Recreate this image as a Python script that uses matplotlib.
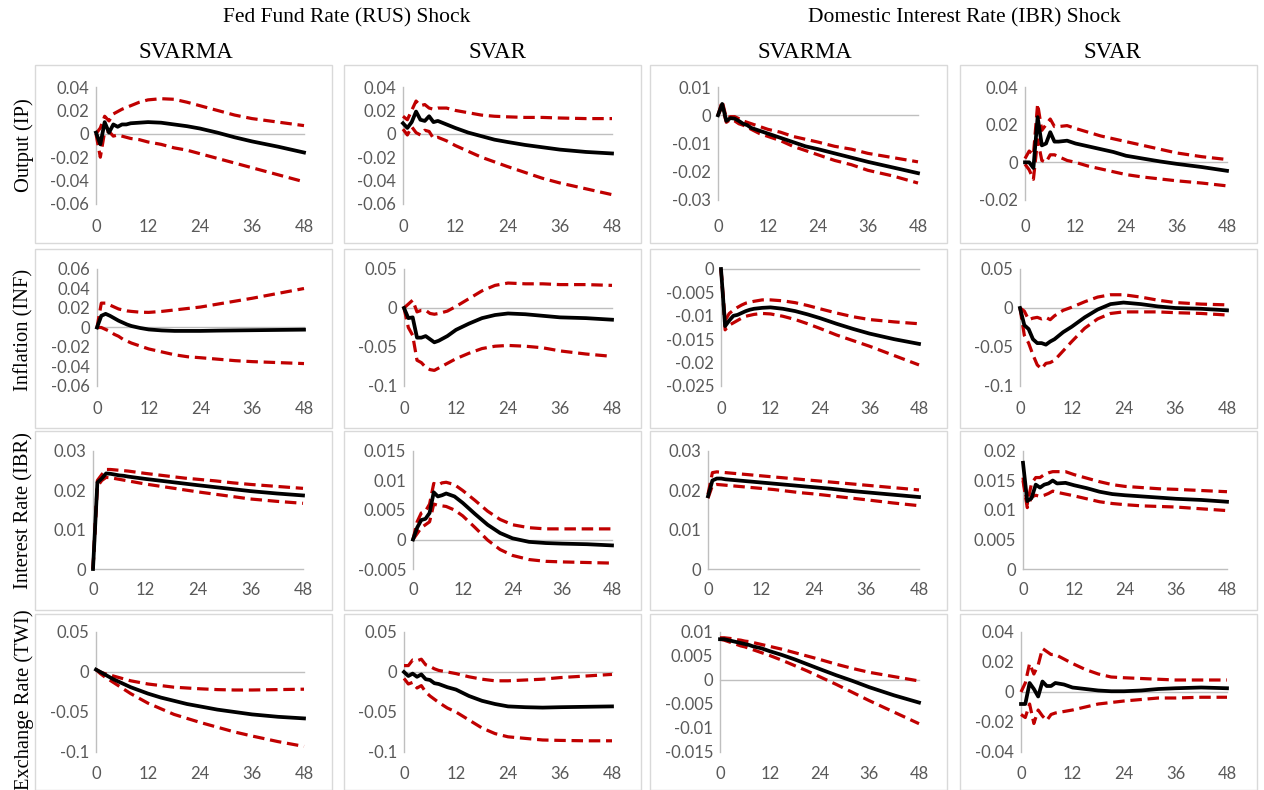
import matplotlib
matplotlib.use("Agg")
import matplotlib.pyplot as plt
from matplotlib.patches import Rectangle
from matplotlib.ticker import FuncFormatter

H = [0, 1, 2, 3, 4, 5, 6, 7, 8, 10, 12, 15, 18, 21, 24, 28, 32, 36, 42, 48]

row_labels = ["Output (IP)", "Inflation (INF)", "Interest Rate (IBR)", "Exchange Rate (TWI)"]
col_labels = ["SVARMA", "SVAR", "SVARMA", "SVAR"]
shock_labels = ["Fed Fund Rate (RUS) Shock", "Domestic Interest Rate (IBR) Shock"]
x_ticks = [0, 12, 24, 36, 48]

# ---- Output (IP) ----
ip_rus_svarma = [0.001, -0.009, 0.010, 0.001, 0.008, 0.006, 0.008, 0.008, 0.009, 0.0095, 0.010, 0.0095, 0.008, 0.0065, 0.0045, 0.001, -0.003, -0.0065, -0.011, -0.016]
ip_rus_svarma_hi = [0.0, 0.005, 0.015, 0.011, 0.017, 0.019, 0.021, 0.0225, 0.024, 0.027, 0.029, 0.030, 0.0295, 0.027, 0.024, 0.020, 0.016, 0.013, 0.010, 0.007]
ip_rus_svarma_lo = [0.0, -0.020, 0.002, 0.002, -0.002, -0.001, -0.002, -0.003, -0.004, -0.005, -0.007, -0.009, -0.012, -0.014, -0.017, -0.021, -0.025, -0.029, -0.035, -0.041]

ip_rus_svar = [0.009, 0.005, 0.010, 0.019, 0.012, 0.011, 0.015, 0.010, 0.011, 0.008, 0.005, 0.001, -0.002, -0.005, -0.007, -0.0095, -0.0115, -0.0135, -0.0155, -0.0168]
ip_rus_svar_hi = [0.015, 0.012, 0.020, 0.028, 0.024, 0.025, 0.022, 0.021, 0.022, 0.022, 0.020, 0.018, 0.016, 0.015, 0.0145, 0.014, 0.014, 0.0135, 0.013, 0.013]
ip_rus_svar_lo = [0.004, -0.001, 0.006, 0.001, -0.001, 0.003, 0.002, -0.004, -0.003, -0.006, -0.010, -0.015, -0.020, -0.024, -0.028, -0.033, -0.038, -0.042, -0.047, -0.052]

ip_ibr_svarma = [0.0, 0.004, -0.002, -0.001, -0.0012, -0.002, -0.003, -0.0035, -0.0045, -0.0055, -0.0065, -0.008, -0.0095, -0.011, -0.012, -0.0135, -0.015, -0.0165, -0.0185, -0.0205]
ip_ibr_svarma_hi = [0.0, 0.005, -0.001, -0.0005, -0.0005, -0.0012, -0.002, -0.0025, -0.003, -0.004, -0.005, -0.006, -0.0075, -0.0085, -0.0095, -0.011, -0.012, -0.0135, -0.015, -0.0165]
ip_ibr_svarma_lo = [0.0, 0.003, -0.0025, -0.0015, -0.002, -0.003, -0.0035, -0.0042, -0.005, -0.0065, -0.0075, -0.009, -0.011, -0.0125, -0.014, -0.016, -0.0175, -0.0195, -0.0215, -0.024]

ip_ibr_svar = [0.0, 0.0, -0.003, 0.024, 0.009, 0.010, 0.016, 0.011, 0.011, 0.0115, 0.010, 0.0085, 0.007, 0.0055, 0.0035, 0.002, 0.0005, -0.0008, -0.0025, -0.0045]
ip_ibr_svar_hi = [0.002, 0.006, 0.004, 0.031, 0.017, 0.020, 0.023, 0.019, 0.019, 0.0195, 0.018, 0.016, 0.014, 0.0125, 0.011, 0.009, 0.007, 0.005, 0.003, 0.0015]
ip_ibr_svar_lo = [-0.001, -0.004, -0.009, 0.012, 0.001, 0.0, 0.004, 0.004, 0.003, 0.001, 0.0, -0.002, -0.0035, -0.005, -0.0065, -0.0078, -0.0088, -0.0098, -0.011, -0.0125]

# ---- Inflation (INF) ----
inf_rus_svarma = [0.0, 0.012, 0.014, 0.012, 0.0095, 0.007, 0.005, 0.003, 0.0015, -0.0005, -0.002, -0.003, -0.0035, -0.0035, -0.0035, -0.0032, -0.003, -0.0028, -0.0025, -0.0022]
inf_rus_svarma_hi = [0.0, 0.025, 0.025, 0.023, 0.021, 0.019, 0.018, 0.017, 0.0165, 0.0157, 0.0155, 0.0165, 0.018, 0.0195, 0.021, 0.024, 0.027, 0.030, 0.035, 0.040]
inf_rus_svarma_lo = [0.0, 0.0, -0.002, -0.004, -0.007, -0.009, -0.012, -0.014, -0.016, -0.019, -0.022, -0.025, -0.028, -0.030, -0.031, -0.0325, -0.034, -0.035, -0.036, -0.037]

inf_rus_svar = [0.0, -0.013, -0.012, -0.038, -0.038, -0.036, -0.040, -0.044, -0.042, -0.036, -0.028, -0.020, -0.013, -0.009, -0.007, -0.008, -0.010, -0.012, -0.013, -0.015]
inf_rus_svar_hi = [0.0, 0.005, 0.010, -0.005, -0.003, -0.003, -0.007, -0.008, -0.007, -0.004, 0.002, 0.012, 0.022, 0.029, 0.032, 0.031, 0.031, 0.030, 0.030, 0.029]
inf_rus_svar_lo = [0.0, -0.025, -0.035, -0.067, -0.070, -0.076, -0.079, -0.080, -0.077, -0.071, -0.065, -0.058, -0.052, -0.049, -0.048, -0.049, -0.051, -0.055, -0.059, -0.062]

inf_ibr_svarma = [0.0, -0.0122, -0.011, -0.010, -0.0098, -0.0094, -0.009, -0.0087, -0.0085, -0.0083, -0.0082, -0.0085, -0.009, -0.0097, -0.0105, -0.0117, -0.0128, -0.0138, -0.015, -0.016]
inf_ibr_svarma_hi = [0.0, -0.011, -0.0095, -0.0088, -0.0082, -0.0077, -0.0073, -0.0071, -0.0069, -0.0066, -0.0066, -0.0068, -0.0072, -0.0078, -0.0085, -0.0094, -0.0102, -0.0108, -0.0113, -0.0117]
inf_ibr_svarma_lo = [0.0, -0.013, -0.012, -0.0115, -0.011, -0.0105, -0.0101, -0.0099, -0.0097, -0.0095, -0.0096, -0.0101, -0.0108, -0.0117, -0.0127, -0.0141, -0.0153, -0.0165, -0.0185, -0.0205]

inf_ibr_svar = [0.0, -0.022, -0.027, -0.040, -0.045, -0.045, -0.047, -0.043, -0.040, -0.031, -0.024, -0.012, -0.002, 0.005, 0.007, 0.005, 0.002, 0.0, -0.001, -0.003]
inf_ibr_svar_hi = [0.0, -0.004, -0.015, -0.013, -0.012, -0.014, -0.012, -0.015, -0.010, -0.003, 0.001, 0.008, 0.014, 0.017, 0.017, 0.014, 0.010, 0.007, 0.005, 0.004]
inf_ibr_svar_lo = [0.0, -0.035, -0.045, -0.060, -0.073, -0.078, -0.071, -0.070, -0.067, -0.055, -0.043, -0.026, -0.014, -0.007, -0.005, -0.005, -0.005, -0.006, -0.007, -0.009]

# ---- Interest Rate (IBR) ----
ibr_rus_svarma = [0.0, 0.022, 0.023, 0.0243, 0.0242, 0.024, 0.0238, 0.0237, 0.0235, 0.0232, 0.0229, 0.0225, 0.0221, 0.0217, 0.0213, 0.0208, 0.0203, 0.0198, 0.0192, 0.0187]
ibr_rus_svarma_hi = [0.0, 0.0225, 0.024, 0.0253, 0.0253, 0.0252, 0.0251, 0.025, 0.0249, 0.0246, 0.0243, 0.0239, 0.0235, 0.0231, 0.0228, 0.0224, 0.0219, 0.0215, 0.021, 0.0205]
ibr_rus_svarma_lo = [0.0, 0.021, 0.0225, 0.0233, 0.0232, 0.023, 0.0228, 0.0226, 0.0224, 0.022, 0.0216, 0.0211, 0.0206, 0.0201, 0.0196, 0.019, 0.0184, 0.0178, 0.0172, 0.0167]

ibr_rus_svar = [0.0, 0.002, 0.0033, 0.0035, 0.0045, 0.008, 0.0073, 0.0075, 0.0078, 0.0073, 0.0062, 0.0043, 0.0025, 0.0011, 0.0002, -0.0004, -0.0006, -0.0007, -0.0008, -0.001]
ibr_rus_svar_hi = [0.0, 0.003, 0.0045, 0.0048, 0.006, 0.0095, 0.0092, 0.0096, 0.0097, 0.0093, 0.0083, 0.0066, 0.0048, 0.0034, 0.0025, 0.002, 0.0018, 0.0018, 0.0018, 0.0018]
ibr_rus_svar_lo = [0.0, 0.001, 0.002, 0.0025, 0.003, 0.006, 0.0058, 0.0057, 0.0056, 0.005, 0.004, 0.002, -0.0001, -0.0017, -0.0027, -0.0034, -0.0037, -0.0038, -0.0039, -0.004]

ibr_ibr_svarma = [0.0185, 0.0225, 0.023, 0.023, 0.0228, 0.0227, 0.0226, 0.0225, 0.0224, 0.0222, 0.022, 0.0217, 0.0214, 0.0211, 0.0208, 0.0204, 0.0199, 0.0195, 0.0189, 0.0183]
ibr_ibr_svarma_hi = [0.019, 0.0245, 0.0247, 0.0246, 0.0245, 0.0244, 0.0243, 0.0242, 0.0241, 0.0239, 0.0237, 0.0234, 0.0231, 0.0228, 0.0225, 0.0221, 0.0217, 0.0213, 0.0207, 0.0201]
ibr_ibr_svarma_lo = [0.018, 0.0212, 0.0215, 0.0214, 0.0213, 0.0212, 0.0211, 0.021, 0.0209, 0.0207, 0.0205, 0.0202, 0.0198, 0.0194, 0.0191, 0.0186, 0.0181, 0.0176, 0.0168, 0.0161]

ibr_ibr_svar = [0.018, 0.0115, 0.012, 0.0143, 0.0138, 0.0143, 0.0145, 0.015, 0.0145, 0.0146, 0.0142, 0.0137, 0.0131, 0.0127, 0.0125, 0.0123, 0.0121, 0.0119, 0.0117, 0.0114]
ibr_ibr_svar_hi = [0.0155, 0.011, 0.0145, 0.0155, 0.0155, 0.016, 0.0163, 0.0165, 0.0165, 0.0165, 0.016, 0.0154, 0.0148, 0.0143, 0.014, 0.0138, 0.0136, 0.0135, 0.0133, 0.0131]
ibr_ibr_svar_lo = [0.015, 0.0104, 0.0122, 0.0125, 0.0123, 0.0125, 0.0128, 0.0132, 0.013, 0.0127, 0.0124, 0.0119, 0.0114, 0.0111, 0.0109, 0.0107, 0.0106, 0.0105, 0.0102, 0.0099]

# ---- Exchange Rate (TWI) ----
twi_rus_svarma = [0.003, 0.0, -0.003, -0.006, -0.009, -0.0115, -0.014, -0.0165, -0.019, -0.023, -0.027, -0.032, -0.036, -0.040, -0.043, -0.047, -0.050, -0.053, -0.056, -0.058]
twi_rus_svarma_hi = [0.003, 0.0, -0.002, -0.0035, -0.005, -0.0065, -0.008, -0.0095, -0.011, -0.013, -0.015, -0.017, -0.019, -0.020, -0.021, -0.022, -0.0225, -0.0225, -0.022, -0.0215]
twi_rus_svarma_lo = [0.003, -0.002, -0.006, -0.0095, -0.013, -0.0165, -0.020, -0.0235, -0.027, -0.033, -0.039, -0.046, -0.053, -0.058, -0.063, -0.069, -0.075, -0.080, -0.087, -0.093]

twi_rus_svar = [0.0, -0.005, -0.002, -0.006, -0.003, -0.009, -0.010, -0.014, -0.015, -0.019, -0.022, -0.030, -0.036, -0.040, -0.043, -0.044, -0.0445, -0.044, -0.0435, -0.043]
twi_rus_svar_hi = [0.008, 0.008, 0.015, 0.014, 0.016, 0.009, 0.007, 0.004, 0.002, 0.0, -0.002, -0.006, -0.009, -0.011, -0.011, -0.010, -0.009, -0.007, -0.005, -0.003]
twi_rus_svar_lo = [-0.008, -0.015, -0.013, -0.020, -0.017, -0.025, -0.030, -0.034, -0.038, -0.045, -0.050, -0.060, -0.070, -0.077, -0.081, -0.083, -0.085, -0.0855, -0.086, -0.086]

twi_ibr_svarma = [0.0085, 0.0085, 0.0083, 0.0081, 0.0079, 0.0077, 0.0075, 0.0073, 0.007, 0.0066, 0.006, 0.0052, 0.0043, 0.0033, 0.0023, 0.001, -0.0002, -0.0015, -0.0032, -0.0047]
twi_ibr_svarma_hi = [0.0088, 0.0088, 0.0087, 0.0086, 0.0084, 0.0083, 0.0081, 0.008, 0.0078, 0.0074, 0.007, 0.0064, 0.0057, 0.005, 0.0043, 0.0033, 0.0024, 0.0016, 0.0007, -0.0002]
twi_ibr_svarma_lo = [0.0085, 0.0083, 0.008, 0.0077, 0.0074, 0.0071, 0.0069, 0.0066, 0.0063, 0.0057, 0.0051, 0.0041, 0.003, 0.0019, 0.0007, -0.0009, -0.0026, -0.0043, -0.0067, -0.0091]

twi_ibr_svar = [-0.008, -0.008, 0.006, 0.002, -0.003, 0.007, 0.004, 0.004, 0.006, 0.005, 0.003, 0.002, 0.001, 0.0005, 0.0005, 0.001, 0.002, 0.0025, 0.003, 0.0025]
twi_ibr_svar_hi = [0.0, 0.006, 0.019, 0.012, 0.018, 0.029, 0.027, 0.025, 0.025, 0.022, 0.019, 0.015, 0.012, 0.010, 0.0095, 0.009, 0.0085, 0.008, 0.008, 0.008]
twi_ibr_svar_lo = [-0.015, -0.017, -0.008, -0.021, -0.012, -0.016, -0.019, -0.015, -0.014, -0.013, -0.012, -0.010, -0.008, -0.007, -0.006, -0.005, -0.004, -0.004, -0.0035, -0.0035]

series = [
    [(ip_rus_svarma, ip_rus_svarma_lo, ip_rus_svarma_hi), (ip_rus_svar, ip_rus_svar_lo, ip_rus_svar_hi),
     (ip_ibr_svarma, ip_ibr_svarma_lo, ip_ibr_svarma_hi), (ip_ibr_svar, ip_ibr_svar_lo, ip_ibr_svar_hi)],
    [(inf_rus_svarma, inf_rus_svarma_lo, inf_rus_svarma_hi), (inf_rus_svar, inf_rus_svar_lo, inf_rus_svar_hi),
     (inf_ibr_svarma, inf_ibr_svarma_lo, inf_ibr_svarma_hi), (inf_ibr_svar, inf_ibr_svar_lo, inf_ibr_svar_hi)],
    [(ibr_rus_svarma, ibr_rus_svarma_lo, ibr_rus_svarma_hi), (ibr_rus_svar, ibr_rus_svar_lo, ibr_rus_svar_hi),
     (ibr_ibr_svarma, ibr_ibr_svarma_lo, ibr_ibr_svarma_hi), (ibr_ibr_svar, ibr_ibr_svar_lo, ibr_ibr_svar_hi)],
    [(twi_rus_svarma, twi_rus_svarma_lo, twi_rus_svarma_hi), (twi_rus_svar, twi_rus_svar_lo, twi_rus_svar_hi),
     (twi_ibr_svarma, twi_ibr_svarma_lo, twi_ibr_svarma_hi), (twi_ibr_svar, twi_ibr_svar_lo, twi_ibr_svar_hi)],
]

# y axis (min, max, step) per panel, as on the excel charts
y_axes = [
    [(-0.06, 0.04, 0.02), (-0.06, 0.04, 0.02), (-0.03, 0.01, 0.01), (-0.02, 0.04, 0.02)],
    [(-0.06, 0.06, 0.02), (-0.1, 0.05, 0.05), (-0.025, 0.0, 0.005), (-0.1, 0.05, 0.05)],
    [(0.0, 0.03, 0.01), (-0.005, 0.015, 0.005), (0.0, 0.03, 0.01), (0.0, 0.02, 0.005)],
    [(-0.1, 0.05, 0.05), (-0.1, 0.05, 0.05), (-0.015, 0.01, 0.005), (-0.04, 0.04, 0.02)],
]

# ---- layout (pixels) ----
W, HP = 1264, 790
box_left = [35, 344, 650, 960]
box_w = 297
box_top = [65, 249, 431, 614]
box_bot = [243, 428, 610, 789.5]
ax_left = [[96, 403, 718, 1025], [97, 404, 721, 1020], [93, 413, 708, 1023], [96, 404, 720, 1021]]
ax_right = [[304, 612, 918, 1227], [304, 612, 919, 1227], [303, 612, 919, 1227], [304, 612, 919, 1227]]
ax_top = [87, 269, 451, 632]
ax_bot = [[204, 204, 200, 200], [386, 386, 386, 386], [569, 569, 569, 569], [752, 752, 752, 752]]
xlab_y = [226, 408, 589, 773]

SERIF = "Liberation Serif"
SANS = "Lato"
GREY_TXT = "#595959"
AXIS_C = "#BFBFBF"
RED = "#C00000"


def fx(x):
    return x / W


def fy(y):
    return 1 - y / HP


def excel_fmt(v, pos):
    v = round(v, 4)
    if abs(v) < 1e-9:
        return "0"
    return f"{v:g}"


fig = plt.figure(figsize=(12.64, 7.9), dpi=100)

for c in range(4):
    for r in range(4):
        fig.add_artist(Rectangle((fx(box_left[c]), fy(box_bot[r])), box_w / W, (box_bot[r] - box_top[r]) / HP,
                                 transform=fig.transFigure, fill=False, edgecolor="#D9D9D9", lw=1))

for r in range(4):
    for c in range(4):
        l, rt = ax_left[r][c], ax_right[r][c]
        t, b = ax_top[r], ax_bot[r][c]
        ax = fig.add_axes([fx(l), fy(b), (rt - l) / W, (b - t) / HP])
        mid, lo, hi = series[r][c]
        ymin, ymax, step = y_axes[r][c]

        ax.axhline(0, color=AXIS_C, lw=1, zorder=1, clip_on=False)
        ax.plot(H, lo, color=RED, lw=2.3, dashes=(3.6, 1.8), clip_on=False, zorder=2)
        ax.plot(H, hi, color=RED, lw=2.3, dashes=(3.6, 1.8), clip_on=False, zorder=2)
        ax.plot(H, mid, color="black", lw=2.7, clip_on=False, zorder=3, solid_joinstyle="round")

        ax.set_xlim(0, 48)
        ax.set_ylim(ymin, ymax)
        n = int(round((ymax - ymin) / step))
        ax.set_yticks([ymin + i * step for i in range(n + 1)])
        ax.yaxis.set_major_formatter(FuncFormatter(excel_fmt))
        ax.set_xticks(x_ticks)
        ax.set_facecolor("none")
        for s in ["top", "right", "bottom"]:
            ax.spines[s].set_visible(False)
        ax.spines["left"].set_color(AXIS_C)
        ax.spines["left"].set_linewidth(1)
        ax.spines["left"].set_zorder(1)
        pad_x = (xlab_y[r] - b - 7) * 0.72
        ax.tick_params(axis="x", length=0, pad=pad_x, labelsize=12, labelcolor=GREY_TXT)
        ax.tick_params(axis="y", length=0, pad=5, labelsize=12, labelcolor=GREY_TXT)
        for lab in ax.get_xticklabels() + ax.get_yticklabels():
            lab.set_fontfamily(SANS)

# titles
shock_x = [347, 964]
for i, s in enumerate(shock_labels):
    fig.text(fx(shock_x[i]), fy(18), s, ha="center", va="center", family=SERIF, fontsize=15.5)
col_x = [186, 497, 805, 1112]
for c, s in enumerate(col_labels):
    fig.text(fx(col_x[c]), fy(53), s, ha="center", va="center", family=SERIF, fontsize=16.5)
row_y = [145, 330, 511, 700]
for r, s in enumerate(row_labels):
    fig.text(fx(24), fy(row_y[r]), s, ha="center", va="center", rotation=90, family=SERIF, fontsize=14.8)

fig.savefig("out.png", dpi=100)
